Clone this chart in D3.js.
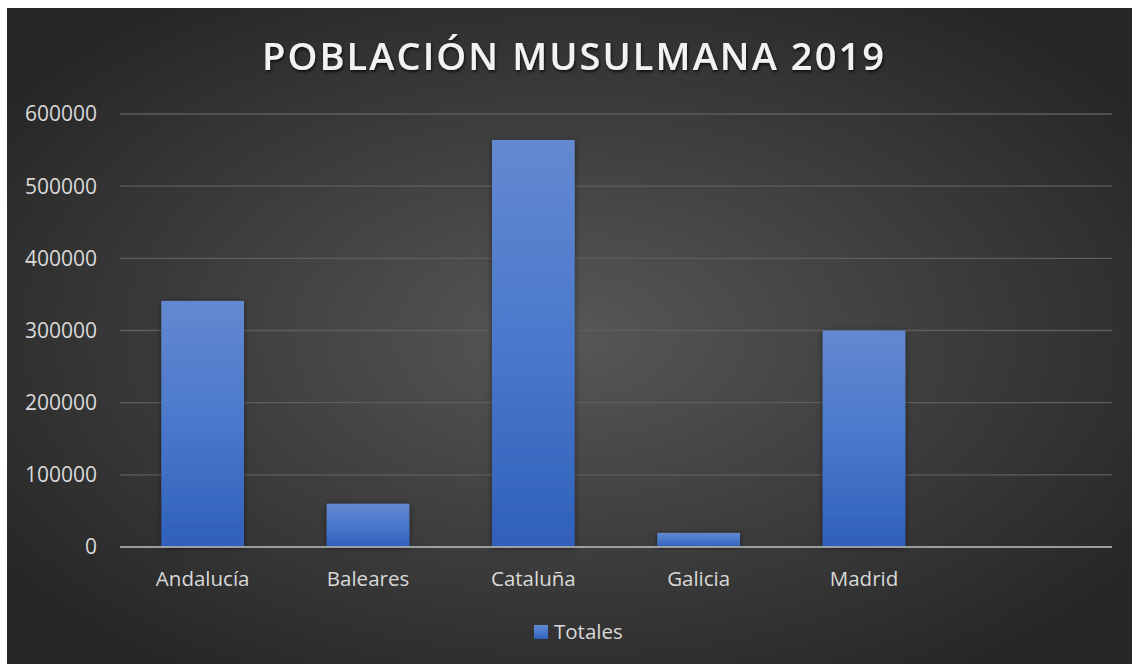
<!DOCTYPE html>
<html lang="es">
<head>
  <meta charset="UTF-8">
  <title>Población musulmana 2019</title>
  <style>
    html, body { margin: 0; padding: 0; background: #ffffff; }
    svg { display: block; }
    .tick-label, .cat-label, .legend-label { font-family: "Open Sans", sans-serif; fill: #d9d9d9; }
  </style>
</head>
<body>
  <svg id="chart"></svg>
  <script src="https://cdn.jsdelivr.net/npm/d3@7"></script>
  <script>
    // data
    var categories = ["Andalucía", "Baleares", "Cataluña", "Galicia", "Madrid"];
    var totales = [341000, 60000, 564000, 19500, 300000];
    var yTicks = [0, 100000, 200000, 300000, 400000, 500000, 600000];
    var seriesName = "Totales";
    var title = "POBLACIÓN MUSULMANA 2019";

    var width = 1132, height = 664;
    var frame = { x: 7, y: 8 };
    var plot = { left: 120, right: 1112, top: 114, bottom: 547 };

    var svg = d3.select("#chart")
      .attr("width", width)
      .attr("height", height);

    var defs = svg.append("defs");

    var bg = defs.append("radialGradient")
      .attr("id", "bg")
      .attr("cx", "50%").attr("cy", "50%").attr("r", "62%");
    bg.append("stop").attr("offset", "0%").attr("stop-color", "#575757");
    bg.append("stop").attr("offset", "100%").attr("stop-color", "#262626");

    var barGrad = defs.append("linearGradient")
      .attr("id", "barGrad")
      .attr("x1", 0).attr("y1", 0).attr("x2", 0).attr("y2", 1);
    barGrad.append("stop").attr("offset", "0%").attr("stop-color", "#6389d0");
    barGrad.append("stop").attr("offset", "50%").attr("stop-color", "#4a78cc");
    barGrad.append("stop").attr("offset", "100%").attr("stop-color", "#2f60b9");

    var shadow = defs.append("filter")
      .attr("id", "shadow")
      .attr("x", "-20%").attr("y", "-20%").attr("width", "140%").attr("height", "140%");
    shadow.append("feDropShadow")
      .attr("dx", 0).attr("dy", 1).attr("stdDeviation", 3)
      .attr("flood-color", "#000").attr("flood-opacity", 0.45);

    var titleShadow = defs.append("filter").attr("id", "titleShadow");
    titleShadow.append("feDropShadow")
      .attr("dx", 1).attr("dy", 2).attr("stdDeviation", 1.5)
      .attr("flood-color", "#000").attr("flood-opacity", 0.7);

    // background
    svg.append("rect")
      .attr("x", frame.x).attr("y", frame.y)
      .attr("width", width - frame.x).attr("height", height - frame.y)
      .attr("fill", "url(#bg)");

    // scales: Excel left an empty sixth slot at the right
    var x = d3.scaleBand()
      .domain(categories.concat([" "]))
      .range([plot.left, plot.right])
      .paddingInner(0.5)
      .paddingOuter(0.25);

    var y = d3.scaleLinear()
      .domain([0, 600000])
      .range([plot.bottom, plot.top]);

    // gridlines
    svg.append("g")
      .selectAll("line")
      .data(yTicks.slice(1))
      .enter()
      .append("line")
      .attr("x1", plot.left).attr("x2", plot.right)
      .attr("y1", d => y(d)).attr("y2", d => y(d))
      .attr("stroke", "#5e5e5e")
      .attr("stroke-width", 1.3);

    // y labels
    svg.append("g")
      .selectAll("text")
      .data(yTicks)
      .enter()
      .append("text")
      .attr("class", "tick-label")
      .attr("x", 97)
      .attr("y", d => y(d))
      .attr("dy", "0.35em")
      .attr("text-anchor", "end")
      .attr("font-size", 21)
      .text(d => d);

    // bars
    svg.append("g")
      .selectAll("rect")
      .data(totales)
      .enter()
      .append("rect")
      .attr("x", (d, i) => x(categories[i]))
      .attr("y", d => y(d))
      .attr("width", x.bandwidth())
      .attr("height", d => y(0) - y(d))
      .attr("fill", "url(#barGrad)")
      .attr("filter", "url(#shadow)");

    // zero axis
    svg.append("line")
      .attr("x1", plot.left).attr("x2", plot.right)
      .attr("y1", y(0)).attr("y2", y(0))
      .attr("stroke", "#a9a9a9")
      .attr("stroke-opacity", 0.9)
      .attr("stroke-width", 2.2);

    // category labels
    svg.append("g")
      .selectAll("text")
      .data(categories)
      .enter()
      .append("text")
      .attr("class", "cat-label")
      .attr("x", d => x(d) + x.bandwidth() / 2)
      .attr("y", 586)
      .attr("text-anchor", "middle")
      .attr("font-size", 20.5)
      .text(d => d);

    // title
    svg.append("text")
      .attr("x", 573)
      .attr("y", 70)
      .attr("text-anchor", "middle")
      .attr("font-family", "'Open Sans', sans-serif")
      .attr("font-weight", 600)
      .attr("font-size", 38)
      .attr("fill", "#f2f2f2")
      .attr("textLength", 622)
      .attr("lengthAdjust", "spacing")
      .attr("filter", "url(#titleShadow)")
      .text(title);

    // legend
    var legend = svg.append("g");
    legend.append("rect")
      .attr("x", 534).attr("y", 625)
      .attr("width", 14).attr("height", 14)
      .attr("fill", "url(#barGrad)");
    legend.append("text")
      .attr("class", "legend-label")
      .attr("x", 554)
      .attr("y", 639)
      .attr("font-size", 20.5)
      .text(seriesName);
  </script>
</body>
</html>
